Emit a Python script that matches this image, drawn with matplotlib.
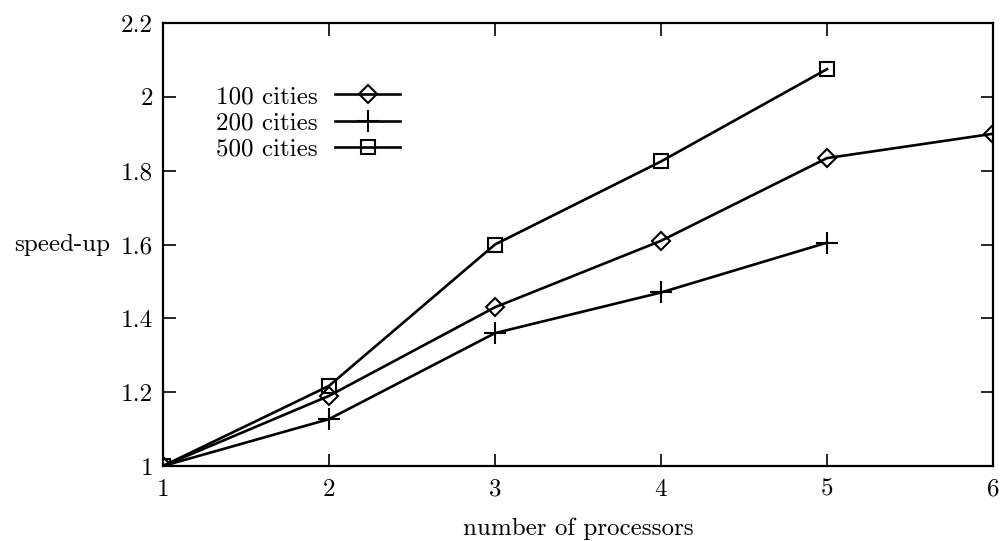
"""Speed-up against number of processors, gnuplot-style line chart."""

import matplotlib

matplotlib.use("Agg")
import matplotlib.pyplot as plt

plt.rcParams["font.family"] = ["cmr10", "DejaVu Serif"]
plt.rcParams["mathtext.fontset"] = "cm"
plt.rcParams["axes.formatter.use_mathtext"] = True

processors_100 = [1, 2, 3, 4, 5, 6]
speedup_100 = [1.0, 1.19, 1.43, 1.61, 1.834, 1.90]

processors_200 = [1, 2, 3, 4, 5]
speedup_200 = [1.0, 1.127, 1.36, 1.47, 1.605]

processors_500 = [1, 2, 3, 4, 5]
speedup_500 = [1.0, 1.217, 1.60, 1.825, 2.075]

x_ticks = [1, 2, 3, 4, 5, 6]
y_ticks = [1.0, 1.2, 1.4, 1.6, 1.8, 2.0, 2.2]
y_tick_labels = ["1", "1.2", "1.4", "1.6", "1.8", "2", "2.2"]

FONT_SIZE = 18

figure = plt.figure(figsize=(10.01, 5.41), dpi=100, facecolor="white")
axis = figure.add_axes((0.1628, 0.1386, 0.8292, 0.8189))

line_style = dict(color="black", linewidth=1.9, markerfacecolor="none",
                  markeredgecolor="black", markeredgewidth=1.5)
axis.plot(processors_100, speedup_100, marker="D", markersize=9, label="100 cities", **line_style)
axis.plot(processors_200, speedup_200, marker="+", markersize=16, label="200 cities", **line_style)
axis.plot(processors_500, speedup_500, marker="s", markersize=10, label="500 cities", **line_style)

axis.set_xlim(1, 6)
axis.set_ylim(1.0, 2.2)
axis.set_xticks(x_ticks)
axis.set_xticklabels([str(t) for t in x_ticks])
axis.set_yticks(y_ticks)
axis.set_yticklabels(y_tick_labels)
axis.tick_params(direction="in", length=9, width=1.2, top=True, right=True,
                 labelsize=FONT_SIZE)
axis.tick_params(axis="x", pad=9)
axis.tick_params(axis="y", pad=7)
for spine in axis.spines.values():
    spine.set_linewidth(1.6)

axis.set_xlabel("number of processors", fontsize=FONT_SIZE, labelpad=12)
axis.set_ylabel("speed-up", fontsize=FONT_SIZE, rotation=0, ha="right", va="center")
axis.yaxis.set_label_coords(-0.064, 0.5)

axis.legend(loc="upper left", bbox_to_anchor=(0.052, 0.881), frameon=False,
            markerfirst=False, fontsize=FONT_SIZE, handlelength=2.6, handletextpad=0.7,
            labelspacing=0.15, borderaxespad=0.0)

figure.savefig("out.png", dpi=100, facecolor="white")
